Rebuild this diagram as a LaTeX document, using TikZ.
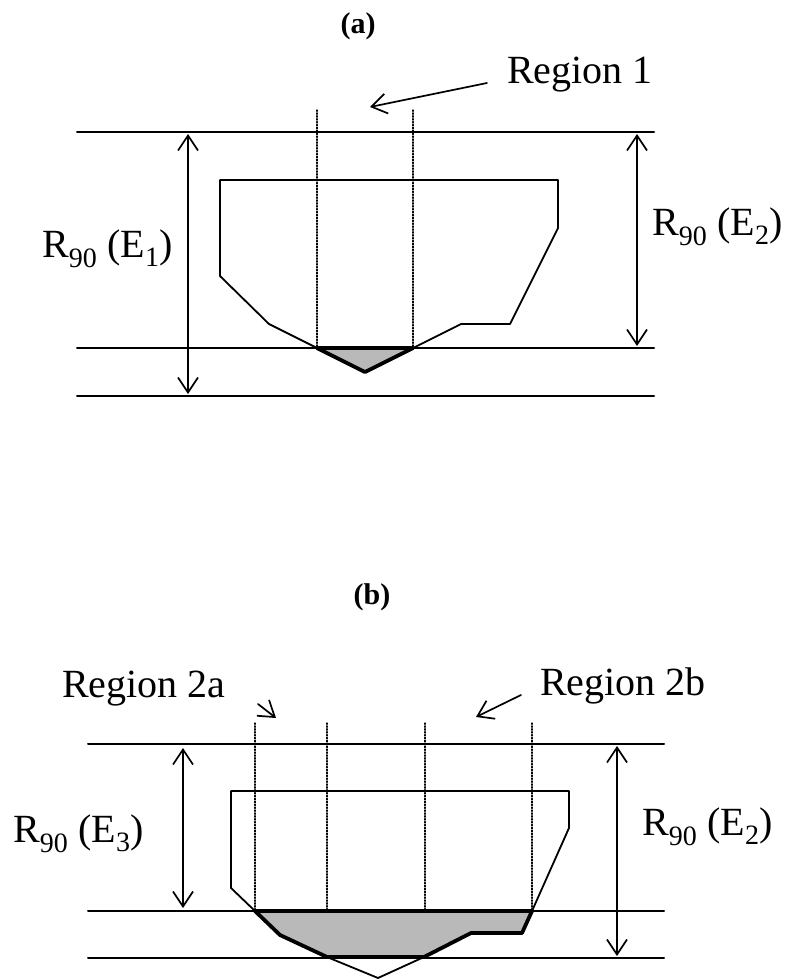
\documentclass[tikz,border=0pt]{standalone}
\usepackage{fontspec}
\setmainfont{Liberation Serif}
\usetikzlibrary{arrows.meta}

\begin{document}
\begin{tikzpicture}[x=1pt, y=-1pt, line cap=round, line join=round,
  >={Straight Barb[length=15pt, width=20pt]},
  lbl/.style={inner sep=0pt, anchor=base west, font=\fontsize{40}{48}\selectfont},
  ttl/.style={inner sep=0pt, font=\fontsize{30}{36}\selectfont\bfseries},
  hline/.style={line width=2pt},
  outline/.style={line width=1.8pt},
  dimline/.style={line width=1.7pt, <->},
  ptr/.style={line width=1.7pt, ->},
  cut/.style={line width=1.3pt, dash pattern=on 1.3pt off 1.6pt},
  dose/.style={fill=gray!55, draw, line width=3.8pt}]
\useasboundingbox (0,0) rectangle (787,980);

%--- Panel (a) ---
\node[ttl] (ta) at (358,26) {(a)};

% Depth lines
\draw[hline] (77,132) coordinate (atl) -- (654,132) coordinate (atr);
\draw[hline] (77,348) coordinate (aml) -- (654,348) coordinate (amr);
\draw[hline] (77,396) coordinate (abl) -- (654,396) coordinate (abr);

% Dotted slice boundaries
\foreach \x [count=\i] in {317,413} {
  \draw[cut] (\x,110) coordinate (ac\i) -- (\x,348);
}

% Target outline
\draw[outline] (220,180) -- (558,180) -- (558,228) -- (510,324) -- (461,324)
  -- (413,348) -- (317,348) -- (269,324) -- (220,276) -- cycle;

% Shaded part beyond R90
\draw[dose] (317,348) -- (413,348) -- (365,372) -- cycle;

% Ranges
\coordinate (ae1t) at (188,134);
\coordinate (ae1b) at (188,394);
\draw[dimline] (ae1t) -- (ae1b);
\coordinate (ae2t) at (637,134);
\coordinate (ae2b) at (637,346);
\draw[dimline] (ae2t) -- (ae2b);
\node[lbl] (la1) at (42,257) {R\textsubscript{90} (E\textsubscript{1})};
\node[lbl] (la2) at (652,235) {R\textsubscript{90} (E\textsubscript{2})};

% Region label
\node[lbl] (r1) at (507,83) {Region 1};
\coordinate (r1s) at (487,83);
\coordinate (r1tip) at (370,107);
\draw[ptr] (r1s) -- (r1tip);

%--- Panel (b) ---
\node[ttl] (tb) at (372,597) {(b)};

% Depth lines
\draw[hline] (88,744) coordinate (btl) -- (664,744) coordinate (btr);
\draw[hline] (88,911) coordinate (bml) -- (664,911) coordinate (bmr);
\draw[hline] (88,958) coordinate (bbl) -- (664,958) coordinate (bbr);

% Dotted slice boundaries
\foreach \x/\y [count=\i] in {255/911,327/958,425/958,532/911} {
  \draw[cut] (\x,723) coordinate (bc\i) -- (\x,\y);
}

% Target outline
\draw[outline] (231,791) -- (569,791) -- (569,828) -- (532,911) -- (522,933)
  -- (471,933) -- (424,957) -- (378,978) -- (327,957) -- (280,935)
  -- (255,911) -- (231,888) -- cycle;

% Shaded part beyond R90
\draw[dose] (255,911) -- (532,911) -- (522,933) -- (471,933) -- (424,957)
  -- (327,957) -- (280,935) -- cycle;

% Ranges
\coordinate (be3t) at (183,748);
\coordinate (be3b) at (183,908);
\draw[dimline] (be3t) -- (be3b);
\coordinate (be2t) at (617,746);
\coordinate (be2b) at (617,956);
\draw[dimline] (be2t) -- (be2b);
\node[lbl] (lb3) at (13,842) {R\textsubscript{90} (E\textsubscript{3})};
\node[lbl] (lb2) at (642,835) {R\textsubscript{90} (E\textsubscript{2})};

% Region labels
\node[lbl] (r2a) at (62,697) {Region 2a};
\coordinate (r2as) at (258,704);
\coordinate (r2at) at (276,718);
\draw[ptr] (r2as) -- (r2at);
\node[lbl] (r2b) at (540,695) {Region 2b};
\coordinate (r2bs) at (521,695);
\coordinate (r2bt) at (476,717);
\draw[ptr] (r2bs) -- (r2bt);
\end{tikzpicture}
\end{document}
